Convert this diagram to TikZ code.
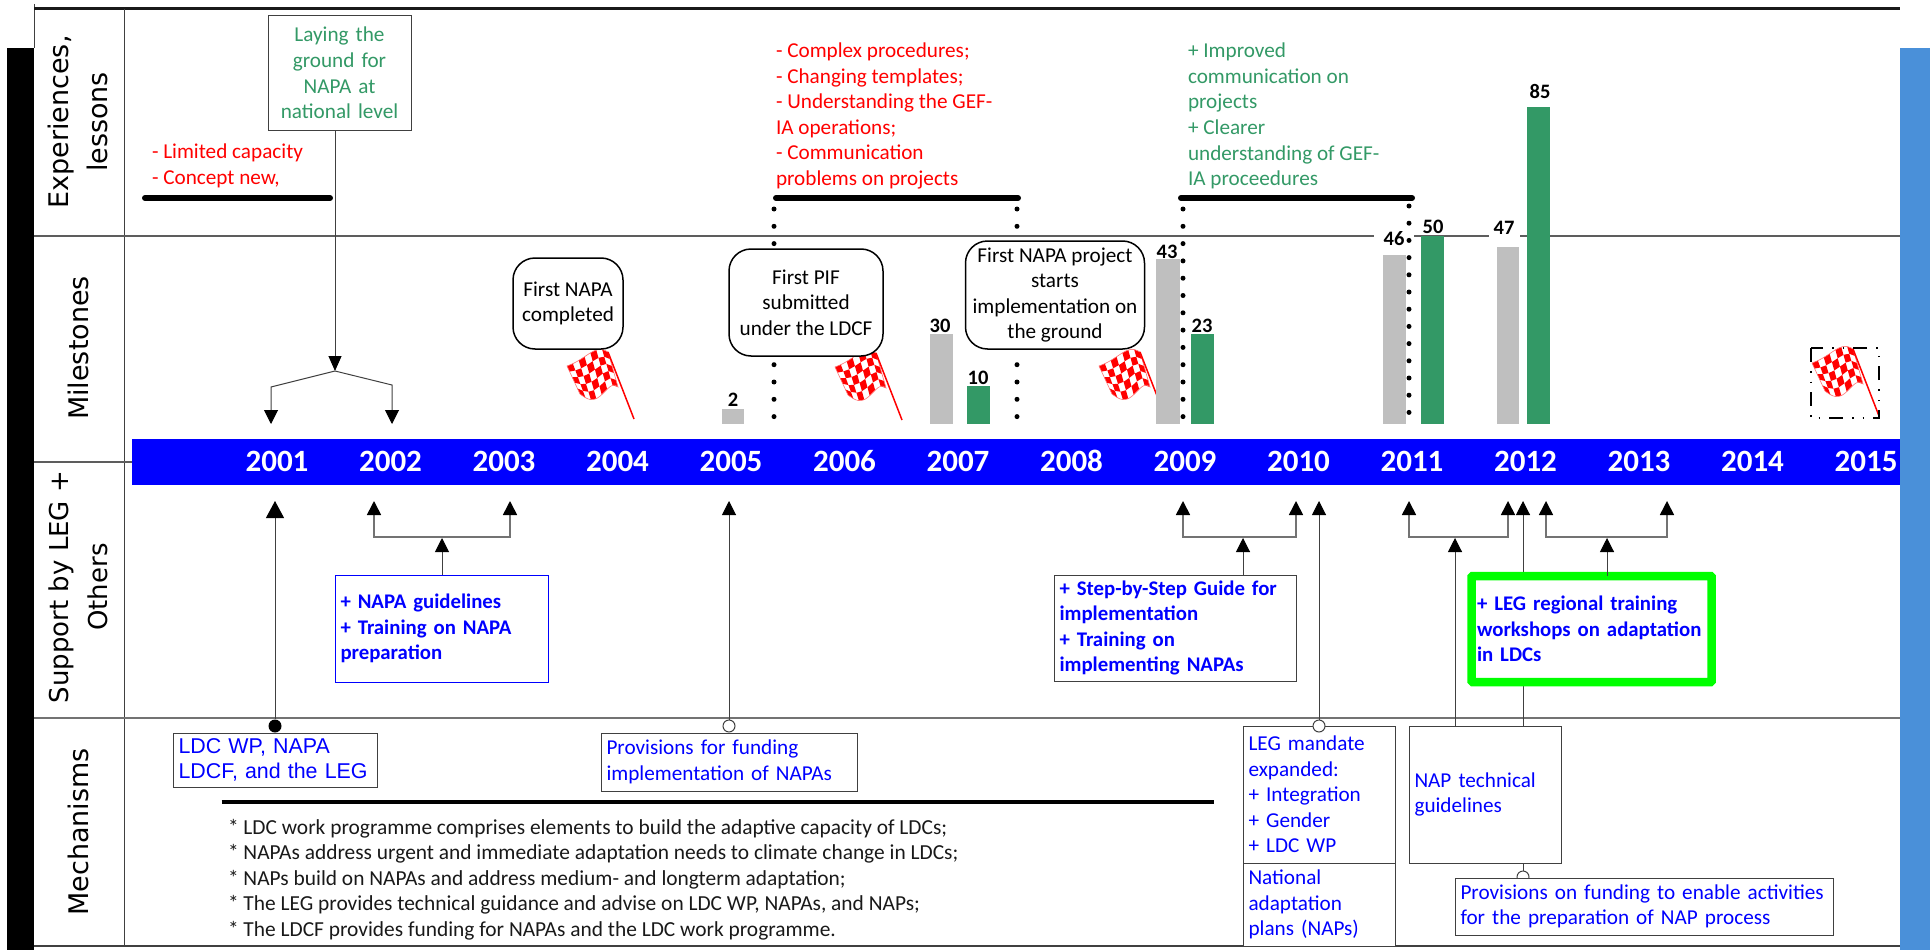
\documentclass[tikz,border=0pt]{standalone}
\usepackage{fontspec}
\setmainfont{Carlito}
\newfontfamily\dejafont{DejaVu Sans}
\newfontfamily\arialfont{Liberation Sans}
\usetikzlibrary{arrows.meta}
\definecolor{leafg}{HTML}{339966}
\definecolor{barg}{HTML}{BFBFBF}
\definecolor{sideb}{HTML}{4A90D9}
\definecolor{ink}{HTML}{404040}
\tikzset{declare function={
  fx(\s,\t)=7+41*\s+\t*(13-3*\s);
  fy(\s,\t)=21-14*\s+\t*(28+7*\s)+(1-\t)*(-6*sin(180*\s*\s))+\t*(8*sin(250*\s)*(1-\s*\s*\s*\s*\s*\s));
}}
\newcommand{\checkflag}[2]{%
\begin{scope}[shift={(#1,#2)}]
  \foreach \i in {0,...,6}{\foreach \j in {0,...,4}{
    \ifodd\numexpr\i+\j\relax\else
    \pgfmathsetmacro{\sa}{\i/7}\pgfmathsetmacro{\sb}{(\i+1)/7}
    \pgfmathsetmacro{\ta}{\j/5}\pgfmathsetmacro{\tb}{(\j+1)/5}
    \fill[red] ({fx(\sa,\ta)},{fy(\sa,\ta)}) -- ({fx(\sb,\ta)},{fy(\sb,\ta)}) -- ({fx(\sb,\tb)},{fy(\sb,\tb)}) -- ({fx(\sa,\tb)},{fy(\sa,\tb)}) -- cycle;
    \fi}}
 \draw[red!55,line width=.6pt] plot[domain=0:1,samples=16] ({fx(\x,0)},{fy(\x,0)}) -- plot[domain=1:0,samples=16] ({fx(\x,1)},{fy(\x,1)}) -- cycle;
 \draw[red,line width=1.5pt] (48,7) -- (74,74);
\end{scope}}
\tikzset{
 base/.style={font=\fontsize{21.2}{25.6}\selectfont,inner sep=0pt,outer sep=0pt},
 boldtxt/.style={font=\bfseries\fontsize{20.8}{25.6}\selectfont},
 sized/.style 2 args={minimum width=#1pt,minimum height=#2pt,text width=(#1-11)*1pt,inner xsep=5.5pt,inner ysep=0pt,align=left},
 frame/.style={base,draw=ink,line width=1pt,fill=white},
 leftlabel/.style={font=\dejafont\fontsize{27}{39}\selectfont,rotate=90,align=center,inner sep=0pt},
 year/.style={font=\bfseries\fontsize{31}{31}\selectfont,text=white,inner sep=0pt,anchor=base},
 val/.style={font=\bfseries\fontsize{20.5}{22}\selectfont,inner sep=0pt},
 milestone/.style={base,draw=black,line width=1.5pt,rounded corners=22pt,fill=white,align=center},
 rule/.style={line width=1.6pt,draw=ink!85},
 heavy/.style={line width=6pt,line cap=round,black},
 conn/.style={line width=1pt,draw=ink},
 tip/.style={conn,-{Triangle[width=14pt,length=14pt,black]}},
 bracket/.style={line width=1.6pt,draw=black!55,-{Triangle[width=14pt,length=14pt,black]}},
 bigtip/.style={conn,-{Triangle[width=18pt,length=17pt,black]}},
 dots/.style={line width=5pt,line cap=round,dash pattern=on 0pt off 17.3pt,black},
 opendot/.style={circle,draw=ink,line width=1pt,fill=white,minimum size=12pt,inner sep=0pt},
 blackdot/.style={circle,fill=black,minimum size=13pt,inner sep=0pt},
}
\begin{document}
\begin{tikzpicture}[x=1pt,y=-1pt]
\useasboundingbox (0,0) rectangle (1930,950);
% frame
\fill[black] (7,48) rectangle (34,950);
\fill[sideb] (1900,48) rectangle (1930,950);
\draw[line width=1pt,ink] (34,4) -- (34,48);
\draw[line width=3pt,black!90] (34,8.5) -- (1900,8.5);
\draw[line width=1pt,ink] (124,9) -- (124,946);
\draw[rule] (34,236) -- (1900,236);
\draw[rule] (34,462) -- (132,462);
\draw[line width=1.3pt,black!55] (34,718) -- (1900,718);
\draw[line width=2pt,ink] (34,946) -- (1900,946);
% row labels
\node[leftlabel] (rowa) at (78,122) {Experiences,\\lessons};
\node[leftlabel] (rowb) at (78,348) {Milestones};
\node[leftlabel,font=\dejafont\fontsize{26}{39}\selectfont] (rowc) at (78,587) {Support by LEG +\\Others};
\node[leftlabel] (rowd) at (78,832) {Mechanisms};
% year bar
\fill[blue] (132,439) rectangle (1900,485);
\foreach \yr [count=\c from 0] in {2001,...,2015}
  \node[year] (y\yr) at ({277+113.5*\c},471.5) {\yr};
% experience texts
\node[base,text=red,anchor=west,align=left] (exa) at (152,166) {- Limited capacity\\- Concept new,};
\node[base,text=red,anchor=west,align=left] (exb) at (776,116) {- Complex procedures;\\- Changing templates;\\- Understanding the GEF-\\IA operations;\\- Communication\\problems on projects};
\node[base,text=leafg,anchor=west,align=left] (exc) at (1188,116) {+ Improved\\communication on\\projects\\+ Clearer\\understanding of GEF-\\IA proceedures};
\coordinate (ha1) at (145,198); \coordinate (ha2) at (330,198);
\coordinate (hb1) at (776,198); \coordinate (hb2) at (1018,198);
\coordinate (hc1) at (1181,198); \coordinate (hc2) at (1412,198);
\draw[heavy] (ha1) -- (ha2);
\draw[heavy] (hb1) -- (hb2);
\draw[heavy] (hc1) -- (hc2);
% dotted lines
\coordinate (da1) at (774,209); \coordinate (da2) at (774,417);
\coordinate (db1) at (1017,209); \coordinate (db2) at (1017,417);
\coordinate (dc1) at (1183,209); \coordinate (dc2) at (1183,417);
\coordinate (dd1) at (1409,206); \coordinate (dd2) at (1409,413);
\draw[dots] (da1) -- (da2);
\draw[dots] (db1) -- (db2);
\draw[dots] (dc1) -- (dc2);
% flags
\checkflag{560}{345}
\checkflag{828}{346}
\checkflag{1092}{345}
\checkflag{1805}{342}
\draw[line width=2pt,black,dash pattern=on 14pt off 9pt on 1.5pt off 9pt on 1.5pt off 9pt] (1811,348) rectangle (1879,418);
% milestones
\node[milestone,minimum width=110pt,minimum height=91pt] (ma) at (568,303.5) {First NAPA\\completed};
\node[milestone,minimum width=154pt,minimum height=107pt] (mb) at (806,302.5) {First PIF\\submitted\\under the LDCF};
\node[milestone,minimum width=179pt,minimum height=108pt] (mc) at (1055,295) {First NAPA project\\starts\\implementation on\\the ground};
% bars
\fill[barg] (722,409) rectangle (744,424);
\fill[barg] (930,334) rectangle (953,424);
\fill[leafg] (967,386) rectangle (990,424);
\fill[barg] (1156,259) rectangle (1180,424);
\fill[leafg] (1191,334) rectangle (1214,424);
\fill[barg] (1383,255) rectangle (1406,424);
\fill[leafg] (1421,236) rectangle (1444,424);
\fill[barg] (1497,247) rectangle (1519,424);
\fill[leafg] (1527,107) rectangle (1550,424);
\node[val] (v2) at (733,400) {2};
\node[val] (v30) at (940,326) {30};
\node[val] (v10) at (978,378) {10};
\node[val] (v43) at (1167,252) {43};
\node[val] (v23) at (1202,326) {23};
\node[val,fill=white,minimum width=40pt,minimum height=14pt] (v46) at (1394,239) {46};
\node[val] (v50) at (1433,227) {50};
\node[val,fill=white,minimum width=31pt,minimum height=24pt] (v47) at (1504,228) {47};
\node[val] (v85) at (1540,91) {85};
\draw[dots,dash pattern=on 0pt off 17.2pt] (dd1) -- (dd2);
% laying the ground
\node[frame,sized={143}{114},align=center,text=leafg] (lay) at (339.5,73) {Laying the\\ground for\\NAPA at\\national level};
\coordinate (jt) at (335,371);
\coordinate (jl) at (271,387); \coordinate (jld) at (271,424);
\coordinate (jr) at (392,385); \coordinate (jrd) at (392,424);
\draw[tip,-{Triangle[width=13pt,length=15pt,black]}] (lay.south -| jt) -- (jt);
\draw[tip] (jt) -- (jl) -- (jld);
\draw[tip] (jt) -- (jr) -- (jrd);
% support: left
\coordinate (t1) at (275,501);
\node[frame,sized={204}{54},font=\arialfont\fontsize{21.4}{25.6}\selectfont,text=blue] (ldc) at (275,760) {LDC WP, NAPA\\LDCF, and the LEG};
\node[blackdot] (d1) at (275,726) {};
\draw[bigtip] (d1) -- (t1);
\node[frame,sized={213}{107},draw=blue,text=blue,boldtxt] (nga) at (441.5,628.5) {+ NAPA guidelines\\+ Training on NAPA\\preparation};
\coordinate (b1c) at (442,538); \coordinate (b1h) at (442,537);
\coordinate (b1l) at (374,501); \coordinate (b1r) at (510,501);
\draw[tip] (nga.north -| b1c) -- (b1c);
\draw[bracket] (b1h) -| (b1l);
\draw[bracket] (b1h) -| (b1r);
\coordinate (t2) at (729,501);
\node[frame,sized={256}{58},text=blue] (prova) at (729,762) {Provisions for funding\\implementation of NAPAs};
\node[opendot] (d2) at (729,726) {};
\draw[tip] (d2) -- (t2);
% notes
\coordinate (na) at (221.5,802); \coordinate (nb) at (1214,802);
\draw[line width=3.5pt,black] (na) -- (nb);
\node[base,font=\fontsize{21.4}{25.6}\selectfont,anchor=west,align=left,text=black!90] (notes) at (228,879.5) {* LDC work programme comprises elements to build the adaptive capacity of LDCs;\\* NAPAs address urgent and immediate adaptation needs to climate change in LDCs;\\* NAPs build on NAPAs and address medium- and longterm adaptation;\\* The LEG provides technical guidance and advise on LDC WP, NAPAs, and NAPs;\\* The LDCF provides funding for NAPAs and the LDC work programme.};
% support: middle
\node[frame,sized={242}{106},text=blue,boldtxt] (stp) at (1175,628) {+ Step-by-Step Guide for\\implementation\\+ Training on\\implementing NAPAs};
\coordinate (b2c) at (1243,538); \coordinate (b2h) at (1243,537);
\coordinate (b2l) at (1183,501); \coordinate (b2r) at (1296,501);
\draw[tip] (stp.north -| b2c) -- (b2c);
\draw[bracket] (b2h) -| (b2l);
\draw[bracket] (b2h) -| (b2r);
\node[frame,sized={152}{137},text=blue] (man) at (1319,794.5) {LEG mandate\\expanded:\\+ Integration\\+ Gender\\+ LDC WP};
\node[frame,sized={152}{83},text=blue] (nat) at (1319,904.5) {National\\adaptation\\plans (NAPs)};
\coordinate (t3) at (1319,501);
\node[opendot] (d3) at (1319,726) {};
\draw[tip] (d3) -- (t3);
% support: right
\node[opendot] (d4) at (1523,877) {};
\node[frame,sized={152}{137},text=blue] (nap) at (1485,794.5) {NAP technical\\guidelines};
\node[frame,sized={378}{57},text=blue] (provb) at (1644,906.5) {Provisions on funding to enable activities\\for the preparation of NAP process};
\draw[conn] (nap.south -| d4) -- (d4);
\coordinate (b3c) at (1455,538); \coordinate (b3h) at (1455,537);
\coordinate (b3l) at (1409,501); \coordinate (b3r) at (1508,501);
\draw[tip] (nap.north -| b3c) -- (b3c);
\draw[bracket] (b3h) -| (b3l);
\draw[bracket] (b3h) -| (b3r);
\coordinate (t5) at (1523,501);
\draw[tip] (nap.north -| t5) -- (t5);
\node[base,draw=green,line width=8.5pt,fill=white,rounded corners=1pt,sized={240}{106},text=blue,boldtxt] (grn) at (1591.5,629) {+ LEG regional training\\workshops on adaptation\\in LDCs};
\coordinate (b4c) at (1607,538); \coordinate (b4h) at (1607,537);
\coordinate (b4l) at (1546,501); \coordinate (b4r) at (1667,501);
\draw[tip] (grn.north -| b4c) -- (b4c);
\draw[bracket] (b4h) -| (b4l);
\draw[bracket] (b4h) -| (b4r);
\end{tikzpicture}
\end{document}
